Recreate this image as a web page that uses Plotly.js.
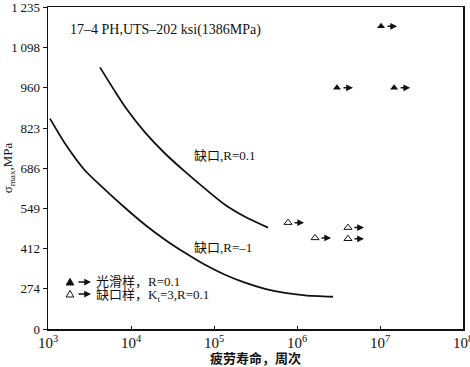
<!DOCTYPE html>
<html><head><meta charset="utf-8">
<script src="https://cdn.plot.ly/plotly-3.0.1.min.js"></script>
<style>html,body{margin:0;padding:0;background:#fff}#c{width:470px;height:367px}</style>
</head><body><div id="c"></div>
<script>
// Curve: notched, R=0.1
const notchR01_N = [4232, 6416, 8950, 14750, 25690, 44730, 77900, 135700, 236300, 447300];
const notchR01_S = [1030, 948, 886, 808, 736, 674, 616, 561, 520, 483];
// Curve: notched, R=-1
const notchRm1_N = [1057, 1603, 2791, 4861, 8466, 14750, 25690, 44730, 77900, 135700, 236300, 411700, 716900, 1249000, 2715000];
const notchRm1_S = [855, 770, 678, 613, 551, 493, 442, 397, 356, 322, 295, 274, 260, 252, 247];
// Run-outs: smooth specimens R=0.1 (filled)
const smooth_N = [1.03e7, 3.03e6, 1.48e7];
const smooth_S = [1170, 960, 960];
// Run-outs: notched Kt=3, R=0.1 (open)
const notched_N = [7.8e5, 1.65e6, 4.11e6, 4.11e6];
const notched_S = [500, 448, 483, 445];
// Y ticks (broken axis: "0" drawn one step below 274)
const yTickVals = [137, 274, 412, 549, 686, 823, 960, 1098, 1235];
const yTickText = ["0", "274", "412", "549", "686", "823", "960", "1\u2009098", "1\u2009235"];
// Legend labels
const legendLabels = ['光滑样，R=0.1', '缺口样，K<sub>t</sub>=3,R=0.1'];

const serif = "Liberation Serif, Times New Roman, serif";
const cjk = "Liberation Serif, Noto Sans CJK SC, serif";
const ink = '#111';

const traces = [
  {x: notchR01_N, y: notchR01_S, mode: 'lines', line: {color: ink, width: 1.8, shape: 'spline', smoothing: 0.7}},
  {x: notchRm1_N, y: notchRm1_S, mode: 'lines', line: {color: ink, width: 1.8, shape: 'spline', smoothing: 0.7}},
  {x: smooth_N, y: smooth_S, mode: 'markers', marker: {symbol: 'triangle-up', size: 7, color: ink}},
  {x: notched_N, y: notched_S, mode: 'markers', marker: {symbol: 'triangle-up-open', size: 7, color: ink, line: {width: 1}}}
];

const M = {l: 48, r: 7, t: 7, b: 38};
const W = 470, H = 367;
const pw = W - M.l - M.r, ph = H - M.t - M.b;
const px = v => (v - M.l) / pw;          // pixel -> paper x
const py = v => (H - M.b - v) / ph;      // pixel -> paper y

const arrowStyle = {text: '', showarrow: true, arrowhead: 2, arrowsize: 0.9, arrowwidth: 1.5, arrowcolor: ink, ax: -11, ay: 0};
const annotations = [];
function addArrows(xs, ys) {
  xs.forEach((x, i) => annotations.push(Object.assign({x: Math.log10(x), y: ys[i], xref: 'x', yref: 'y', xshift: 16}, arrowStyle)));
}
addArrows(smooth_N, smooth_S);
addArrows(notched_N, notched_S);

// legend arrows
[282, 294].forEach(yy => annotations.push(Object.assign({x: px(91), y: py(yy), xref: 'paper', yref: 'paper'}, arrowStyle, {ax: -14})));

annotations.push(
  {x: px(68), y: py(30), xref: 'paper', yref: 'paper', xanchor: 'left', yanchor: 'middle', text: '17\u20134 PH,UTS\u2013202 ksi(1386MPa)', showarrow: false, font: {family: serif, size: 14, color: ink}},
  {x: px(192), y: py(155), xref: 'paper', yref: 'paper', xanchor: 'left', yanchor: 'middle', text: '缺口,R=0.1', showarrow: false, font: {family: cjk, size: 13, color: ink}},
  {x: px(192), y: py(247), xref: 'paper', yref: 'paper', xanchor: 'left', yanchor: 'middle', text: '缺口,R=\u20131', showarrow: false, font: {family: cjk, size: 13, color: ink}},
  {x: px(94), y: py(281), xref: 'paper', yref: 'paper', xanchor: 'left', yanchor: 'middle', text: legendLabels[0], showarrow: false, font: {family: cjk, size: 13, color: ink}},
  {x: px(94), y: py(295), xref: 'paper', yref: 'paper', xanchor: 'left', yanchor: 'middle', text: legendLabels[1], showarrow: false, font: {family: cjk, size: 13, color: ink}}
);

function tri(cx, cy, filled) {
  const path = `M${px(cx - 3.8)},${py(cy + 3)} L${px(cx + 3.8)},${py(cy + 3)} L${px(cx)},${py(cy - 3.6)} Z`;
  return {type: 'path', xref: 'paper', yref: 'paper', path: path, line: {color: ink, width: 1}, fillcolor: filled ? ink : 'rgba(0,0,0,0)'};
}

const layout = {
  width: W, height: H,
  margin: M,
  paper_bgcolor: '#fff', plot_bgcolor: '#fff',
  showlegend: false,
  xaxis: {
    type: 'log', range: [3, 8], dtick: 1, exponentformat: 'power',
    showline: true, linecolor: ink, linewidth: 1.5, mirror: true,
    showgrid: false, zeroline: false,
    ticks: 'inside', ticklen: 3, tickcolor: ink,
    tickfont: {family: serif, size: 12, color: ink},
    ticklabeloverflow: 'allow',
    title: {text: '<b>疲劳寿命，周次</b>', font: {family: cjk, size: 13, color: ink}, standoff: 4}
  },
  yaxis: {
    range: [137, 1236], tickvals: yTickVals, ticktext: yTickText,
    showline: true, linecolor: ink, linewidth: 1.5, mirror: true,
    showgrid: false, zeroline: false,
    ticks: 'outside', ticklen: 4, tickcolor: ink,
    tickfont: {family: serif, size: 13, color: ink},
    ticklabeloverflow: 'allow',
    title: {text: 'σ<sub>max</sub>,MPa', font: {family: serif, size: 13, color: ink}, standoff: 4}
  },
  shapes: [tri(70, 282, true), tri(70, 294, false)],
  annotations: annotations
};

Plotly.newPlot('c', traces, layout, {staticPlot: true, displayModeBar: false});
</script></body></html>
